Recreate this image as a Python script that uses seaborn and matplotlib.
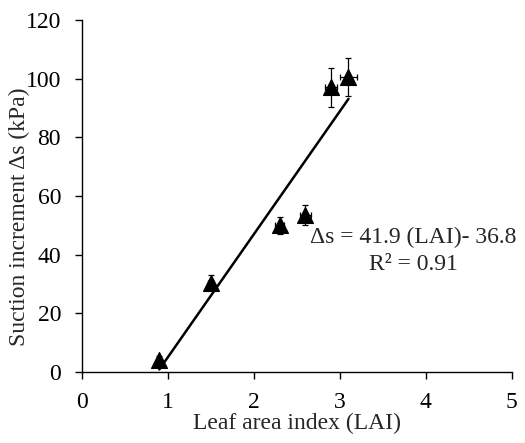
import matplotlib
matplotlib.use("Agg")
import matplotlib.pyplot as plt
import seaborn as sns
import numpy as np
import pandas as pd

lai = [0.9, 1.5, 2.3, 2.6, 2.9, 3.1]
suction = [4.0, 30.5, 50.0, 53.5, 97.0, 100.5]
yerr = [1.5, 2.5, 3.0, 3.5, 6.5, 6.5]
xerr = [0.02, 0.03, 0.05, 0.06, 0.07, 0.1]
slope, intercept = 41.9, -36.8
eq_text = "Δs = 41.9 (LAI)- 36.8"
r2_text = "R² = 0.91"

sns.set_theme(style="ticks")
plt.rcParams['font.family'] = ['Liberation Serif', 'DejaVu Serif']

FS = 17
fig = plt.figure(figsize=(5.25, 4.43), dpi=100)
ax = fig.add_axes([0.156, 0.160, 0.819, 0.795])

df = pd.DataFrame({"LAI": lai, "s": suction})
ax.errorbar(lai, suction, yerr=yerr, xerr=xerr, fmt="none", ecolor="black",
            elinewidth=0.9, capsize=2.5, capthick=0.9, zorder=2)
sns.scatterplot(data=df, x="LAI", y="s", marker="^", s=130, color="black",
                edgecolor="black", ax=ax, zorder=3, legend=False)
xl = np.array([min(lai), max(lai)])
sns.lineplot(x=xl, y=slope * xl + intercept, color="black", linewidth=1.8, ax=ax, zorder=4)

ax.set_xlim(0, 5)
ax.set_ylim(0, 120)
ax.set_xticks(range(0, 6))
ax.set_yticks(range(0, 121, 20))
ax.tick_params(labelsize=FS, length=5, width=1, colors="black", direction="out")
ax.tick_params(axis="x", pad=9)
ax.tick_params(axis="y", pad=10)
ax.set_xlabel("Leaf area index (LAI)", fontsize=FS, labelpad=0)
ax.set_ylabel("Suction increment Δs (kPa)", fontsize=FS)
ax.yaxis.set_label_coords(-0.12, 0.44)
for s in ["top", "right"]:
    ax.spines[s].set_visible(False)
for s in ["left", "bottom"]:
    ax.spines[s].set_color("black")
    ax.spines[s].set_linewidth(1)

ax.text(3.85, 46, eq_text, ha="center", va="center", fontsize=FS)
ax.text(3.85, 36.8, r2_text, ha="center", va="center", fontsize=FS)

fig.savefig("out.png", dpi=100)
